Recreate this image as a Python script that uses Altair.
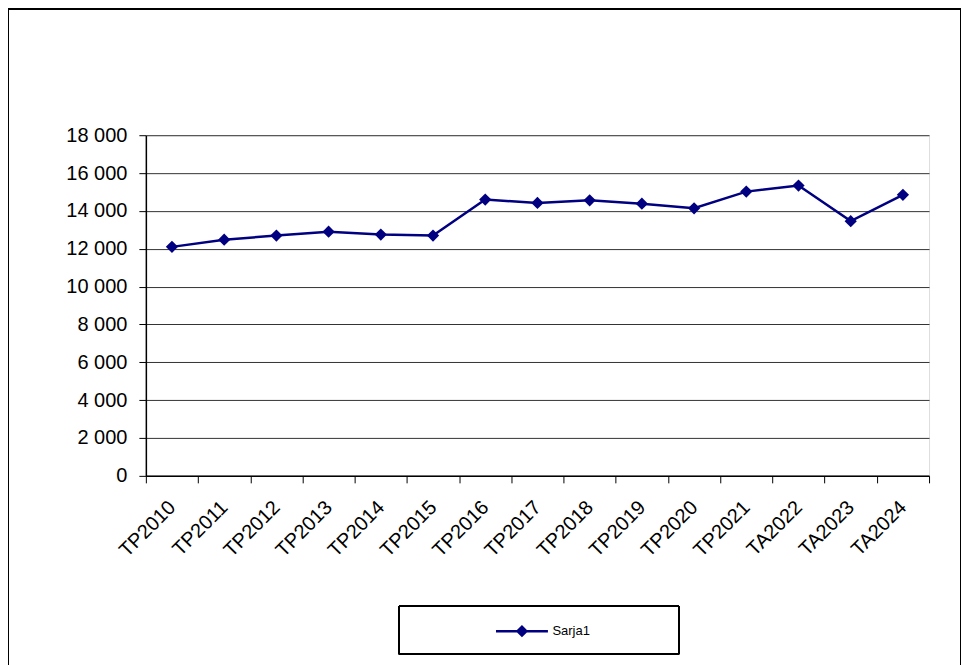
import altair as alt
import pandas as pd

categories = ["TP2010", "TP2011", "TP2012", "TP2013", "TP2014", "TP2015", "TP2016",
              "TP2017", "TP2018", "TP2019", "TP2020", "TP2021", "TA2022", "TA2023", "TA2024"]
values = [12100, 12480, 12700, 12900, 12750, 12700, 14600,
          14420, 14560, 14380, 14140, 15020, 15340, 13460, 14850]
series_name = "Sarja1"
y_ticks = list(range(0, 18001, 2000))

df = pd.DataFrame({"cat": categories, "val": values, "series": [series_name] * len(categories)})

NAVY = "#000080"
W, H = 784, 341
PL, PT, PR, PB = 138, 127, 33, 189

x_enc = alt.X("cat:N", sort=categories, title=None,
              scale=alt.Scale(type="band", paddingInner=0, paddingOuter=0),
              axis=alt.Axis(labelAngle=-45, labelAlign="right", labelBaseline="middle",
                            labelFontSize=20, labelFont="Liberation Sans",
                            labelColor="black", tickBand="extent", tickSize=7,
                            tickColor="black", domainColor="black", domainWidth=1.5,
                            labelPadding=21, grid=False))
y_enc = alt.Y("val:Q", title=None,
              scale=alt.Scale(domain=[0, 18000], nice=False),
              axis=alt.Axis(values=y_ticks, labelFontSize=20, labelFont="Liberation Sans",
                            labelColor="black", tickSize=7, tickColor="black",
                            domainColor="black", domainWidth=1.5, labelPadding=12,
                            gridColor="#333333", gridWidth=1,
                            labelExpr="replace(format(datum.value, ','), ',', ' ')"))

color_enc = alt.Color("series:N", title=None,
                      scale=alt.Scale(domain=[series_name], range=[NAVY]),
                      legend=alt.Legend(orient="none", legendX=349, legendY=469,
                                        symbolType="M-1,0H1M-0.17,0L0,-0.17L0.17,0L0,0.17Z",
                                        symbolSize=2704, symbolStrokeWidth=2.5,
                                        symbolStrokeColor=NAVY, symbolFillColor=NAVY,
                                        labelFontSize=13, labelFont="Liberation Sans",
                                        labelColor="black", padding=0, labelOffset=3))

line = alt.Chart(df).mark_line(strokeWidth=2.5).encode(x=x_enc, y=y_enc, color=color_enc)
points = alt.Chart(df).mark_point(shape="diamond", filled=True, size=150, opacity=1).encode(
    x=x_enc, y=y_enc, color=alt.Color("series:N", scale=alt.Scale(domain=[series_name], range=[NAVY]), legend=None))

frame = alt.Chart(df).mark_rect(fill=None, stroke="black", strokeWidth=1, clip=False).encode(
    x=alt.value(-PL + 0.5), x2=alt.value(W + PR - 1.5),
    y=alt.value(-PT + 0.5), y2=alt.value(H + PB + 20))

legend_box = alt.Chart(df).mark_rect(fill=None, stroke="black", strokeWidth=1, clip=False).encode(
    x=alt.value(253.5), x2=alt.value(533.5), y=alt.value(471.5), y2=alt.value(519.5))

chart = alt.layer(frame, legend_box, line, points).properties(
    width=W, height=H,
    padding={"left": PL, "top": PT, "right": PR, "bottom": PB},
    autosize=alt.AutoSizeParams(type="none"),
).configure_view(stroke="#a0a0a0", strokeWidth=2).configure(background="white")

chart.save("out.html", embed_options={"renderer": "svg", "actions": False})
